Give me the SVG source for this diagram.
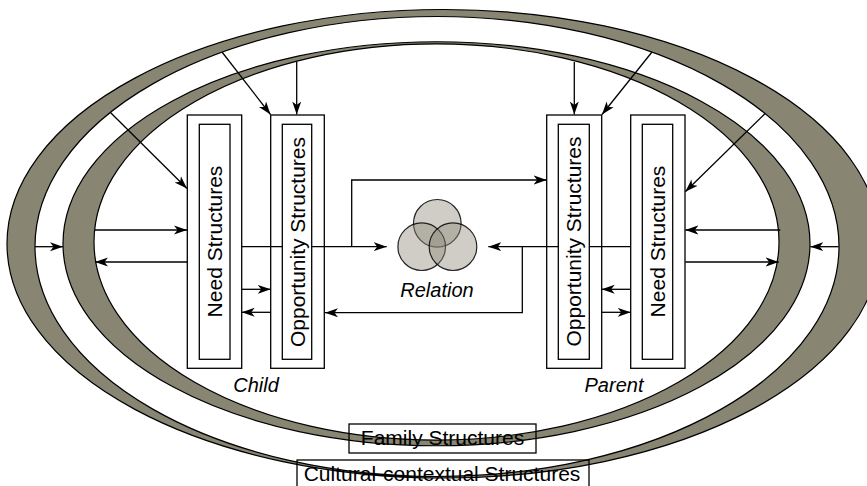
<svg xmlns="http://www.w3.org/2000/svg" width="867" height="486" viewBox="0 0 867 486">
<style>
.band{fill:#888573;stroke:#000;stroke-width:1.2;fill-rule:evenodd}
.box{fill:none;stroke:#000;stroke-width:1.3}
.inner{fill:#fff;stroke:#000;stroke-width:1.3}
.lbl{font-family:"Liberation Sans",Arial,sans-serif;font-size:21px;fill:#000}
.it{font-style:italic;font-size:20px}
.con{fill:none;stroke:#000;stroke-width:1.3}
.circ{fill:#8c8877;fill-opacity:0.42;stroke:#000;stroke-width:1.2;stroke-opacity:0.85}
</style>
<defs>
<marker id="ah" markerUnits="userSpaceOnUse" markerWidth="14" markerHeight="12" refX="13" refY="6" orient="auto">
<path d="M0,1.5 L13,6 L0,10.5 L3.5,6 Z" fill="#000"/>
</marker>
</defs>
<rect width="867" height="486" fill="#fff"/>
<g id="cultural">
<path class="band" d="M7,243.75 a436.5,234.25 0 1,0 873,0 a436.5,234.25 0 1,0 -873,0 Z M35,246.5 a402,230 0 1,0 804,0 a402,230 0 1,0 -804,0 Z"/>
<rect class="box" x="297" y="460" width="292" height="32"/>
<text class="lbl" x="442" y="481" text-anchor="middle">Cultural-contextual Structures</text>
</g>
<g id="family">
<path class="band" d="M63,243.75 a373.5,202 0 1,0 747,0 a373.5,202 0 1,0 -747,0 Z M94,242 a342.5,198 0 1,0 685,0 a342.5,198 0 1,0 -685,0 Z"/>
<rect class="box" x="349" y="424" width="187" height="29"/>
<text class="lbl" x="442.5" y="445" text-anchor="middle">Family Structures</text>
</g>
<g id="connectors">
<line class="con" x1="110.7" y1="112.7" x2="187" y2="188.5" marker-end="url(#ah)"/>
<line class="con" x1="222" y1="52" x2="270.5" y2="114.5" marker-end="url(#ah)"/>
<line class="con" x1="296.7" y1="61.5" x2="296.7" y2="114.5" marker-end="url(#ah)"/>
<line class="con" x1="95" y1="230" x2="187" y2="230" marker-end="url(#ah)"/>
<line class="con" x1="35" y1="246.7" x2="63" y2="246.7" marker-end="url(#ah)"/>
<line class="con" x1="187" y1="262" x2="95" y2="262" marker-end="url(#ah)"/>
<line class="con" x1="241.7" y1="289.3" x2="270.7" y2="289.3" marker-end="url(#ah)"/>
<line class="con" x1="270.7" y1="312.3" x2="241.7" y2="312.3" marker-end="url(#ah)"/>
<line class="con" x1="241.7" y1="246.7" x2="386.7" y2="246.7" marker-end="url(#ah)"/>
<polyline class="con" points="351.7,246.7 351.7,180 546.7,180" marker-end="url(#ah)"/>
<polyline class="con" points="522.3,246.7 522.3,312.7 325,312.7" marker-end="url(#ah)"/>
<line class="con" x1="630.7" y1="246.7" x2="488.3" y2="246.7" marker-end="url(#ah)"/>
<line class="con" x1="574.3" y1="62" x2="574.3" y2="114.5" marker-end="url(#ah)"/>
<line class="con" x1="652" y1="52" x2="602" y2="114.5" marker-end="url(#ah)"/>
<line class="con" x1="765.3" y1="113.3" x2="685.3" y2="191.7" marker-end="url(#ah)"/>
<line class="con" x1="780.3" y1="230" x2="685.3" y2="230" marker-end="url(#ah)"/>
<line class="con" x1="685.3" y1="262" x2="778.7" y2="262" marker-end="url(#ah)"/>
<line class="con" x1="838.7" y1="246.7" x2="810.3" y2="246.7" marker-end="url(#ah)"/>
<line class="con" x1="630.7" y1="289.3" x2="601.7" y2="289.3" marker-end="url(#ah)"/>
<line class="con" x1="601.7" y1="312.3" x2="630.7" y2="312.3" marker-end="url(#ah)"/>
</g>
<g id="child-need">
<rect class="box" x="187.3" y="115" width="54.4" height="253.3"/>
<rect class="inner" x="199.3" y="124.3" width="30.7" height="235"/>
<text class="lbl" transform="translate(222,241.5) rotate(-90)" text-anchor="middle">Need Structures</text>
</g>
<g id="child-opportunity">
<rect class="box" x="270.7" y="115" width="53.6" height="253.3"/>
<rect class="inner" x="282.3" y="124.3" width="29.4" height="235"/>
<text class="lbl" transform="translate(304.5,242) rotate(-90)" text-anchor="middle">Opportunity Structures</text>
</g>
<text class="lbl it" x="256" y="392" text-anchor="middle">Child</text>
<g id="parent-opportunity">
<rect class="box" x="546.7" y="115" width="55" height="253.3"/>
<rect class="inner" x="558.3" y="124.3" width="31" height="235"/>
<text class="lbl" transform="translate(581.3,241.5) rotate(-90)" text-anchor="middle">Opportunity Structures</text>
</g>
<g id="parent-need">
<rect class="box" x="630.7" y="115" width="54.3" height="253.3"/>
<rect class="inner" x="642.3" y="124.3" width="30.4" height="235"/>
<text class="lbl" transform="translate(665,241.5) rotate(-90)" text-anchor="middle">Need Structures</text>
</g>
<text class="lbl it" x="614" y="392" text-anchor="middle">Parent</text>
<g id="relation">
<circle class="circ" cx="437.3" cy="223.3" r="23.8"/>
<circle class="circ" cx="421.7" cy="246.7" r="23.8"/>
<circle class="circ" cx="453" cy="246.7" r="23.8"/>
<text class="lbl it" x="437" y="296.5" text-anchor="middle">Relation</text>
</g>
</svg>
